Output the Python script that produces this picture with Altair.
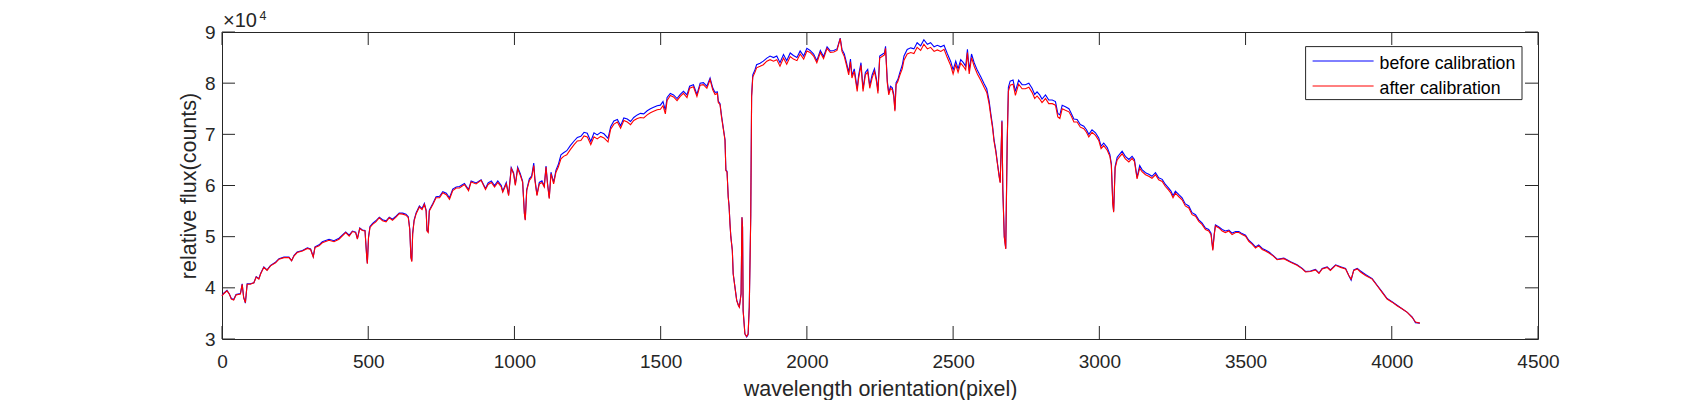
import altair as alt
import pandas as pd

# ---- data (flux in units of 10^4 counts) ----
pixel = [
    0, 5, 17, 25, 32, 40, 48, 63, 69, 74,
    80, 86, 97, 109, 117, 126, 132, 143, 154, 166,
    183, 195, 212, 229, 238, 246, 257, 275, 292, 303,
    312, 318, 332, 343, 366, 383, 400, 423, 435, 446,
    457, 463, 471, 480, 489, 495, 497, 501, 506, 515,
    526, 538, 549, 561, 572, 583, 595, 606, 618, 629,
    637, 642, 646, 649, 652, 657, 664, 675, 684, 692,
    698, 701, 705, 709, 721, 732, 744, 755, 767, 778,
    789, 801, 812, 829, 843, 852, 869, 886, 901, 910,
    921, 932, 943, 955, 960, 972, 980, 989, 997, 1003,
    1011, 1020, 1028, 1034, 1037, 1042, 1051, 1059, 1066, 1070,
    1077, 1085, 1094, 1102, 1108, 1113, 1119, 1125, 1134, 1142,
    1150, 1159, 1168, 1179, 1191, 1204, 1215, 1227, 1238, 1249,
    1261, 1272, 1283, 1295, 1306, 1320, 1329, 1340, 1352, 1363,
    1374, 1386, 1397, 1408, 1420, 1431, 1442, 1454, 1465, 1476,
    1488, 1499, 1508, 1516, 1522, 1533, 1544, 1556, 1567, 1578,
    1590, 1599, 1612, 1624, 1635, 1646, 1658, 1669, 1678, 1686,
    1694, 1697, 1703, 1708, 1714, 1720, 1723, 1727, 1731, 1734,
    1737, 1740, 1745, 1748, 1754, 1760, 1766, 1769, 1775, 1778,
    1780, 1782, 1788, 1794, 1799, 1803, 1808, 1811, 1815, 1823,
    1828, 1840, 1851, 1863, 1874, 1886, 1897, 1908, 1920, 1931,
    1943, 1954, 1966, 1977, 1989, 2000, 2011, 2023, 2034, 2046,
    2057, 2069, 2080, 2092, 2103, 2114, 2120, 2128, 2135, 2143,
    2149, 2154, 2162, 2172, 2177, 2185, 2192, 2200, 2208, 2215,
    2223, 2231, 2238, 2243, 2249, 2257, 2265, 2269, 2275, 2280,
    2286, 2292, 2297, 2301, 2305, 2311, 2318, 2326, 2332, 2343,
    2355, 2366, 2377, 2389, 2400, 2412, 2423, 2435, 2446, 2458,
    2469, 2480, 2492, 2500, 2509, 2517, 2526, 2535, 2543, 2549,
    2555, 2563, 2572, 2583, 2595, 2606, 2615, 2623, 2629, 2635,
    2640, 2646, 2652, 2658, 2661, 2667, 2670, 2675, 2680, 2685,
    2689, 2695, 2705, 2713, 2724, 2736, 2747, 2759, 2770, 2779,
    2787, 2796, 2804, 2816, 2827, 2839, 2850, 2858, 2865, 2873,
    2884, 2896, 2903, 2913, 2924, 2935, 2947, 2956, 2964, 2975,
    2987, 2998, 3006, 3015, 3027, 3036, 3041, 3046, 3049, 3054,
    3061, 3069, 3078, 3089, 3101, 3112, 3120, 3129, 3138, 3146,
    3158, 3169, 3180, 3192, 3203, 3215, 3226, 3237, 3245, 3252,
    3260, 3272, 3283, 3294, 3306, 3317, 3329, 3340, 3351, 3363,
    3374, 3382, 3388, 3393, 3397, 3409, 3420, 3431, 3443, 3454,
    3466, 3477, 3488, 3500, 3511, 3523, 3534, 3545, 3557, 3568,
    3580, 3595, 3608, 3631, 3654, 3676, 3694, 3705, 3722, 3739,
    3751, 3762, 3779, 3790, 3808, 3825, 3842, 3853, 3861, 3870,
    3882, 3893, 3910, 3933, 3950, 3967, 3984, 4001, 4018, 4035,
    4053, 4070, 4081, 4096,
]

before_calibration = [
    3.85, 3.89, 3.95, 3.88, 3.79, 3.77, 3.87, 3.89, 4.08, 3.82,
    3.70, 4.08, 4.08, 4.10, 4.22, 4.18, 4.28, 4.41, 4.35, 4.44,
    4.50, 4.57, 4.60, 4.60, 4.53, 4.63, 4.70, 4.73, 4.78, 4.76,
    4.61, 4.80, 4.84, 4.90, 4.95, 4.92, 4.97, 5.09, 5.03, 5.11,
    5.09, 4.96, 5.17, 5.13, 5.12, 4.60, 4.48, 4.99, 5.20, 5.26,
    5.31, 5.38, 5.33, 5.31, 5.38, 5.34, 5.40, 5.46, 5.46, 5.44,
    5.39, 5.15, 4.60, 4.53, 5.07, 5.33, 5.47, 5.60, 5.55, 5.65,
    5.52, 5.12, 5.10, 5.52, 5.65, 5.78, 5.79, 5.88, 5.85, 5.76,
    5.93, 5.97, 5.98, 6.04, 5.92, 6.09, 6.05, 6.11, 5.94, 6.05,
    6.09, 6.00, 6.09, 6.00, 5.89, 6.06, 5.82, 6.35, 6.25, 6.02,
    6.36, 6.23, 6.08, 5.46, 5.33, 5.92, 6.13, 6.19, 6.44, 6.13,
    5.82, 6.06, 6.09, 5.99, 6.38, 6.05, 5.76, 6.26, 6.06, 6.30,
    6.41, 6.60, 6.64, 6.68, 6.78, 6.87, 6.94, 6.96, 7.04, 7.02,
    6.86, 7.03, 6.99, 7.04, 7.01, 6.92, 7.15, 7.26, 7.29, 7.17,
    7.32, 7.30, 7.25, 7.33, 7.38, 7.41, 7.40, 7.46, 7.50, 7.53,
    7.56, 7.57, 7.64, 7.47, 7.72, 7.80, 7.77, 7.70, 7.78, 7.84,
    7.77, 7.94, 7.97, 7.78, 8.00, 8.01, 7.94, 8.10, 7.91, 7.82,
    7.83, 7.65, 7.60, 7.37, 7.13, 6.90, 6.30, 6.28, 5.78, 5.60,
    5.26, 5.00, 4.74, 4.28, 4.02, 3.76, 3.66, 3.63, 3.89, 5.38,
    5.19, 3.56, 3.10, 3.04, 3.08, 3.63, 5.40, 7.76, 8.16, 8.27,
    8.36, 8.39, 8.43, 8.49, 8.53, 8.50, 8.53, 8.40, 8.56, 8.44,
    8.59, 8.54, 8.50, 8.63, 8.53, 8.68, 8.64, 8.57, 8.44, 8.64,
    8.52, 8.71, 8.63, 8.64, 8.67, 8.88, 8.66, 8.57, 8.41, 8.21,
    8.47, 8.15, 8.28, 7.89, 8.16, 8.40, 7.89, 8.21, 8.27, 7.95,
    8.16, 8.28, 8.08, 7.85, 8.53, 8.56, 8.59, 8.72, 8.04, 7.81,
    7.94, 7.91, 7.78, 7.48, 8.01, 8.07, 8.21, 8.35, 8.53, 8.66,
    8.69, 8.67, 8.79, 8.73, 8.85, 8.76, 8.79, 8.71, 8.74, 8.71,
    8.74, 8.58, 8.42, 8.26, 8.43, 8.28, 8.46, 8.40, 8.33, 8.66,
    8.25, 8.57, 8.40, 8.25, 8.12, 7.99, 7.89, 7.66, 7.40, 7.16,
    6.89, 6.69, 6.42, 6.17, 6.07, 7.27, 5.92, 5.00, 4.77, 6.88,
    7.92, 8.04, 8.06, 7.84, 8.06, 7.97, 7.97, 8.00, 7.90, 7.78,
    7.83, 7.77, 7.69, 7.77, 7.67, 7.67, 7.64, 7.41, 7.38, 7.57,
    7.54, 7.50, 7.42, 7.30, 7.29, 7.19, 7.16, 7.09, 7.00, 7.09,
    7.03, 6.93, 6.77, 6.83, 6.74, 6.61, 6.43, 5.66, 5.50, 6.37,
    6.55, 6.61, 6.67, 6.57, 6.51, 6.57, 6.51, 6.16, 6.39, 6.31,
    6.25, 6.22, 6.18, 6.25, 6.15, 6.12, 6.02, 5.95, 5.89, 5.80,
    5.89, 5.82, 5.76, 5.64, 5.60, 5.47, 5.43, 5.33, 5.27, 5.17,
    5.14, 5.07, 4.75, 5.06, 5.23, 5.19, 5.14, 5.11, 5.13, 5.07,
    5.10, 5.10, 5.06, 5.03, 4.93, 4.87, 4.80, 4.84, 4.77, 4.74,
    4.70, 4.63, 4.56, 4.58, 4.51, 4.45, 4.38, 4.32, 4.33, 4.36,
    4.29, 4.38, 4.41, 4.35, 4.45, 4.41, 4.38, 4.24, 4.15, 4.35,
    4.38, 4.33, 4.26, 4.18, 4.05, 3.92, 3.79, 3.73, 3.66, 3.59,
    3.52, 3.43, 3.32, 3.31,
]

after_calibration = [
    3.84, 3.88, 3.94, 3.88, 3.78, 3.76, 3.86, 3.88, 4.07, 3.81,
    3.71, 4.07, 4.07, 4.10, 4.21, 4.17, 4.27, 4.40, 4.34, 4.43,
    4.49, 4.56, 4.59, 4.59, 4.53, 4.62, 4.69, 4.72, 4.77, 4.75,
    4.60, 4.79, 4.82, 4.88, 4.93, 4.90, 4.95, 5.08, 5.01, 5.10,
    5.08, 4.95, 5.16, 5.12, 5.11, 4.59, 4.47, 4.98, 5.18, 5.24,
    5.29, 5.37, 5.31, 5.29, 5.37, 5.32, 5.38, 5.45, 5.44, 5.42,
    5.37, 5.14, 4.59, 4.51, 5.05, 5.31, 5.45, 5.58, 5.53, 5.63,
    5.50, 5.11, 5.08, 5.50, 5.63, 5.76, 5.76, 5.86, 5.82, 5.73,
    5.90, 5.95, 5.95, 6.02, 5.90, 6.07, 6.03, 6.10, 5.92, 6.02,
    6.06, 5.97, 6.06, 5.97, 5.87, 6.03, 5.80, 6.33, 6.23, 6.00,
    6.33, 6.20, 6.06, 5.45, 5.32, 5.90, 6.10, 6.16, 6.39, 6.10,
    5.80, 6.03, 6.06, 5.97, 6.36, 6.03, 5.74, 6.23, 6.03, 6.26,
    6.36, 6.52, 6.57, 6.60, 6.70, 6.80, 6.87, 6.88, 6.97, 6.95,
    6.80, 6.95, 6.91, 6.96, 6.93, 6.85, 7.10, 7.20, 7.24, 7.12,
    7.27, 7.24, 7.19, 7.27, 7.31, 7.33, 7.32, 7.38, 7.42, 7.45,
    7.48, 7.49, 7.56, 7.40, 7.66, 7.76, 7.73, 7.66, 7.74, 7.80,
    7.72, 7.90, 7.93, 7.74, 7.96, 7.97, 7.90, 8.07, 7.87, 7.78,
    7.80, 7.62, 7.58, 7.34, 7.11, 6.88, 6.29, 6.26, 5.77, 5.58,
    5.25, 4.99, 4.73, 4.27, 4.01, 3.75, 3.65, 3.62, 3.88, 5.38,
    5.18, 3.55, 3.10, 3.05, 3.10, 3.62, 5.38, 7.73, 8.12, 8.22,
    8.30, 8.33, 8.36, 8.43, 8.46, 8.43, 8.46, 8.33, 8.49, 8.37,
    8.52, 8.47, 8.44, 8.57, 8.47, 8.63, 8.60, 8.53, 8.40, 8.60,
    8.48, 8.68, 8.60, 8.61, 8.64, 8.87, 8.62, 8.52, 8.36, 8.16,
    8.42, 8.10, 8.23, 7.84, 8.10, 8.35, 7.84, 8.16, 8.22, 7.90,
    8.10, 8.23, 8.03, 7.80, 8.49, 8.52, 8.55, 8.68, 8.00, 7.77,
    7.90, 7.87, 7.74, 7.45, 7.97, 8.03, 8.16, 8.28, 8.45, 8.57,
    8.60, 8.58, 8.70, 8.64, 8.76, 8.67, 8.70, 8.62, 8.65, 8.62,
    8.66, 8.50, 8.34, 8.18, 8.36, 8.21, 8.39, 8.33, 8.26, 8.60,
    8.18, 8.50, 8.33, 8.18, 8.05, 7.92, 7.82, 7.60, 7.35, 7.12,
    6.86, 6.66, 6.40, 6.15, 6.05, 7.25, 5.90, 4.99, 4.76, 6.85,
    7.84, 7.96, 7.98, 7.76, 7.98, 7.89, 7.89, 7.92, 7.82, 7.70,
    7.75, 7.69, 7.62, 7.70, 7.60, 7.60, 7.57, 7.34, 7.31, 7.50,
    7.47, 7.44, 7.37, 7.24, 7.24, 7.14, 7.11, 7.04, 6.95, 7.04,
    6.98, 6.88, 6.72, 6.78, 6.69, 6.57, 6.40, 5.64, 5.48, 6.34,
    6.50, 6.56, 6.62, 6.52, 6.46, 6.53, 6.47, 6.13, 6.34, 6.27,
    6.21, 6.18, 6.14, 6.21, 6.11, 6.08, 5.98, 5.91, 5.85, 5.76,
    5.85, 5.78, 5.72, 5.60, 5.56, 5.43, 5.40, 5.30, 5.24, 5.14,
    5.11, 5.04, 4.73, 5.04, 5.21, 5.17, 5.11, 5.08, 5.11, 5.04,
    5.08, 5.08, 5.04, 5.01, 4.91, 4.85, 4.78, 4.82, 4.75, 4.72,
    4.68, 4.62, 4.55, 4.57, 4.50, 4.44, 4.37, 4.31, 4.32, 4.35,
    4.28, 4.37, 4.40, 4.34, 4.44, 4.40, 4.37, 4.24, 4.17, 4.34,
    4.37, 4.31, 4.24, 4.17, 4.04, 3.91, 3.78, 3.72, 3.65, 3.59,
    3.52, 3.42, 3.33, 3.31,
]

x_ticks = [0, 500, 1000, 1500, 2000, 2500, 3000, 3500, 4000, 4500]
y_ticks = [3, 4, 5, 6, 7, 8, 9]
series_names = ["before calibration", "after calibration"]
series_colors = ["#0000ff", "#ff0000"]

# ---- layout / style ----
W, H = 1316, 307
FONT = "Liberation Sans"
INK = "#262626"
TICK_LEN = 13

df_before = pd.DataFrame({"pixel": pixel, "flux": before_calibration})
df_after = pd.DataFrame({"pixel": pixel, "flux": after_calibration})
df_xt = pd.DataFrame({"pixel": x_ticks})
df_yt = pd.DataFrame({"flux": y_ticks})
one = pd.DataFrame({"k": [0]})

xscale = alt.Scale(domain=[0, 4500], nice=False, zero=False)
yscale = alt.Scale(domain=[3, 9], nice=False, zero=False)

xaxis = alt.Axis(
    values=x_ticks, format="d", title="wavelength orientation(pixel)",
    grid=False, domain=False, ticks=False, tickSize=0,
    labelPadding=13, labelFlush=False, labelOverlap=False,
    labelFont=FONT, labelFontSize=19, labelColor=INK,
    titleFont=FONT, titleFontSize=21.5, titleFontWeight="normal",
    titleColor=INK, titleBaseline="alphabetic", titleY=56.5,
)
yaxis = alt.Axis(
    values=y_ticks, format="d", title="relative flux(counts)",
    grid=False, domain=False, ticks=False, tickSize=0,
    labelPadding=7, labelFlush=False, labelOverlap=False,
    labelFont=FONT, labelFontSize=19, labelColor=INK,
    titleFont=FONT, titleFontSize=21.5, titleFontWeight="normal",
    titleColor=INK, titleBaseline="alphabetic", titleX=-27,
)

X = alt.X("pixel:Q", scale=xscale, axis=xaxis)
Y = alt.Y("flux:Q", scale=yscale, axis=yaxis)

line_before = alt.Chart(df_before).mark_line(
    color=series_colors[0], strokeWidth=1.1
).encode(x=X, y=Y)
line_after = alt.Chart(df_after).mark_line(
    color=series_colors[1], strokeWidth=1.1
).encode(x=X, y=Y)

# inward ticks on all four sides (MATLAB box style)
xt_bottom = alt.Chart(df_xt).mark_rule(color=INK, strokeWidth=1).encode(
    x=X, y=alt.value(H), y2=alt.value(H - TICK_LEN),
)
xt_top = alt.Chart(df_xt).mark_rule(color=INK, strokeWidth=1).encode(
    x=X, y=alt.value(0), y2=alt.value(TICK_LEN),
)
yt_left = alt.Chart(df_yt).mark_rule(color=INK, strokeWidth=1).encode(
    y=Y, x=alt.value(0), x2=alt.value(TICK_LEN),
)
yt_right = alt.Chart(df_yt).mark_rule(color=INK, strokeWidth=1).encode(
    y=Y, x=alt.value(W), x2=alt.value(W - TICK_LEN),
)

# legend box (north-east, inside)
LX0, LX1, LY0, LY1 = 1083.6, 1300.0, 14.6, 67.6
legend_box = alt.Chart(one).mark_rect(
    fill="white", stroke=INK, strokeWidth=1
).encode(x=alt.value(LX0), x2=alt.value(LX1), y=alt.value(LY0), y2=alt.value(LY1))

legend_layers = []
row_y = [29, 54]
row_base = [37, 61.5]
for name, col, ly, lb in zip(series_names, series_colors, row_y, row_base):
    legend_layers.append(
        alt.Chart(one).mark_rule(color=col, strokeWidth=1).encode(
            x=alt.value(LX0 + 7), x2=alt.value(LX0 + 68), y=alt.value(ly)
        )
    )
    legend_layers.append(
        alt.Chart(one).mark_text(
            align="left", baseline="alphabetic", font=FONT, fontSize=17.7, color="#000000"
        ).encode(x=alt.value(LX0 + 74), y=alt.value(lb), text=alt.value(name))
    )

# exponent label  x10^4
exp_base = alt.Chart(one).mark_text(
    align="left", baseline="alphabetic", font=FONT, fontSize=20, color=INK
).encode(x=alt.value(1), y=alt.value(-5.2), text=alt.value("\u00d710"))
exp_pow = alt.Chart(one).mark_text(
    align="left", baseline="alphabetic", font=FONT, fontSize=12.5, color=INK
).encode(x=alt.value(37.5), y=alt.value(-12.5), text=alt.value("4"))

chart = alt.layer(
    line_before, line_after, xt_bottom, xt_top, yt_left, yt_right,
    legend_box, *legend_layers, exp_base, exp_pow,
).properties(
    width=W, height=H,
    padding={"left": 214, "top": 24, "right": 154, "bottom": 68},
    autosize=alt.AutoSizeParams(type="none"),
    background="white",
).configure_view(stroke=INK, strokeWidth=1)

chart.save("out.html", embed_options={"renderer": "svg", "actions": False})
